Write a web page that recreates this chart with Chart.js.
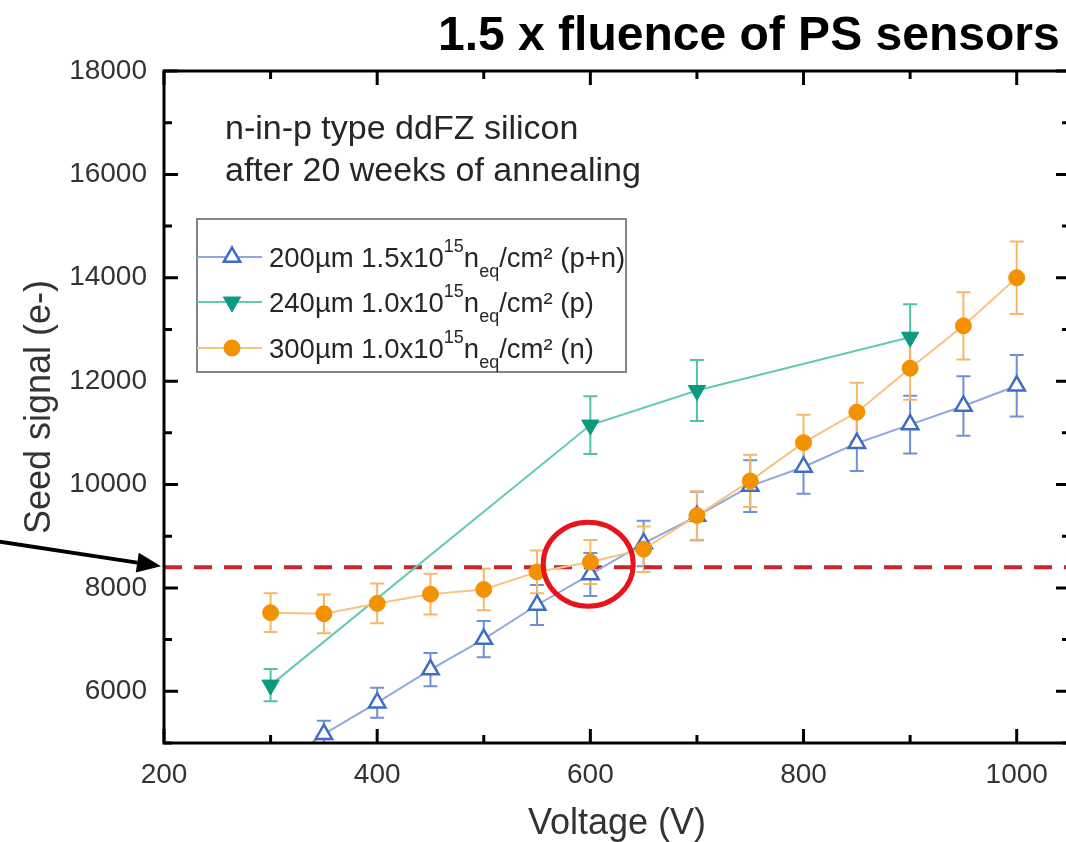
<!DOCTYPE html>
<html>
<head>
<meta charset="utf-8">
<script src="https://cdn.jsdelivr.net/npm/chart.js@4/dist/chart.umd.min.js"></script>
<style>
html,body{margin:0;padding:0;background:#fff;overflow:hidden;}
canvas{display:block;}
</style>
</head>
<body>
<canvas id="c" width="1082" height="842" style="width:1082px;height:842px;"></canvas>
<script>
const FONT = '"Liberation Sans", Arial, Helvetica, sans-serif';

// ---- texts ----
const titleText = '1.5 x fluence of PS sensors';
const noteLines = ['n-in-p type ddFZ silicon', 'after 20 weeks of annealing'];
const xTitle = 'Voltage (V)';
const yTitle = 'Seed signal (e-)';

// ---- ticks ----
const xTickValues = [200, 400, 600, 800, 1000];
const xMinorTicks = [300, 500, 700, 900];
const yTickValues = [6000, 8000, 10000, 12000, 14000, 16000, 18000];
const yMinorTicks = [5000, 7000, 9000, 11000, 13000, 15000, 17000];

// ---- series: 200um 1.5e15 (p+n) ----
const label200 = [['200µm 1.5x10', 'n'], ['15', 'sup'], ['n', 'n'], ['eq', 'sub'], ['/cm² (p+n)', 'n']];
const volts200 = [300, 350, 400, 450, 500, 550, 600, 650, 700, 750, 800, 850, 900, 950, 1000];
const signal200 = [4450, 5170, 5780, 6420, 7010, 7670, 8260, 8860, 9390, 9970, 10340, 10800, 11160, 11520, 11910];
const err200 = [220, 260, 290, 320, 350, 385, 415, 440, 470, 500, 520, 540, 560, 575, 595];

// ---- series: 240um 1.0e15 (p) ----
const label240 = [['240µm 1.0x10', 'n'], ['15', 'sup'], ['n', 'n'], ['eq', 'sub'], ['/cm² (p)', 'n']];
const volts240 = [300, 600, 700, 900];
const signal240 = [6120, 11150, 11820, 12850];
const err240 = [310, 560, 590, 640];

// ---- series: 300um 1.0e15 (n) ----
const label300 = [['300µm 1.0x10', 'n'], ['15', 'sup'], ['n', 'n'], ['eq', 'sub'], ['/cm² (n)', 'n']];
const volts300 = [300, 350, 400, 450, 500, 550, 600, 650, 700, 750, 800, 850, 900, 950, 1000];
const signal300 = [7520, 7500, 7700, 7880, 7970, 8310, 8500, 8750, 9400, 10070, 10810, 11400, 12250, 13070, 14000];
const err300 = [375, 375, 385, 395, 400, 415, 425, 440, 470, 505, 540, 570, 610, 650, 700];

// ---- annotations ----
const thresholdSignal = 8400;
const circleCenterV = 598;
const circleCenterS = 8460;

const series = [
  { label: label200, v: volts200, s: signal200, e: err200, line: '#8fa9df', mark: '#3f6dc4', err: '#6f90d8',
    style: 'triangle', rot: 0, r: 9.5, fill: '#ffffff', bw: 2.5, order: 1 },
  { label: label240, v: volts240, s: signal240, e: err240, line: '#5fcbb0', mark: '#0c9a7e', err: '#4fc4a4',
    style: 'triangle', rot: 180, r: 10, fill: '#0c9a7e', bw: 1, order: 2 },
  { label: label300, v: volts300, s: signal300, e: err300, line: '#f8c27f', mark: '#f39200', err: '#f5b869',
    style: 'circle', rot: 0, r: 8, fill: '#f39200', bw: 1, order: 0 }
];

const datasets = series.map(sr => ({
  data: sr.v.map((v, i) => ({ x: v, y: sr.s[i] })),
  showLine: true,
  borderColor: sr.line,
  borderWidth: 2,
  pointStyle: sr.style,
  rotation: sr.rot,
  pointRadius: sr.r,
  pointBackgroundColor: sr.fill,
  pointBorderColor: sr.mark,
  pointBorderWidth: sr.bw,
  order: sr.order
}));

function drawRich(ctx, parts, x, y) {
  for (const [t, k] of parts) {
    const size = k === 'n' ? 27.5 : 18;
    ctx.font = size + 'px ' + FONT;
    const dy = k === 'sup' ? -15 : (k === 'sub' ? 10 : 0);
    ctx.fillText(t, x, y + dy);
    x += ctx.measureText(t).width;
  }
}

const decor = {
  id: 'decor',
  beforeDatasetsDraw(chart) {
    const { ctx, chartArea: a, scales: { x, y } } = chart;
    ctx.save();
    ctx.beginPath();
    ctx.rect(a.left, a.top, a.right - a.left, a.bottom - a.top);
    ctx.clip();
    series.forEach(sr => {
      ctx.strokeStyle = sr.err;
      ctx.lineWidth = 2;
      sr.v.forEach((v, i) => {
        const px = x.getPixelForValue(v);
        const lo = y.getPixelForValue(sr.s[i] - sr.e[i]);
        const hi = y.getPixelForValue(sr.s[i] + sr.e[i]);
        ctx.beginPath();
        ctx.moveTo(px, lo); ctx.lineTo(px, hi);
        ctx.moveTo(px - 7, lo); ctx.lineTo(px + 7, lo);
        ctx.moveTo(px - 7, hi); ctx.lineTo(px + 7, hi);
        ctx.stroke();
      });
    });
    const ty = y.getPixelForValue(thresholdSignal);
    ctx.setLineDash([18, 12]);
    ctx.strokeStyle = '#c8262d';
    ctx.lineWidth = 4;
    ctx.beginPath();
    ctx.moveTo(a.left, ty);
    ctx.lineTo(a.right, ty);
    ctx.stroke();
    ctx.restore();
  },
  afterDraw(chart) {
    const { ctx, chartArea: a, scales: { x, y } } = chart;
    ctx.save();
    ctx.strokeStyle = '#000';
    ctx.lineWidth = 3;
    ctx.strokeRect(a.left, a.top, a.right - a.left, a.bottom - a.top);
    const tick = (vals, len, horiz) => {
      vals.forEach(v => {
        ctx.beginPath();
        if (horiz) {
          const px = x.getPixelForValue(v);
          ctx.moveTo(px, a.bottom); ctx.lineTo(px, a.bottom - len);
          ctx.moveTo(px, a.top); ctx.lineTo(px, a.top + len);
        } else {
          const py = y.getPixelForValue(v);
          ctx.moveTo(a.left, py); ctx.lineTo(a.left + len, py);
          ctx.moveTo(a.right, py); ctx.lineTo(a.right - len, py);
        }
        ctx.stroke();
      });
    };
    tick(xTickValues, 14, true);
    tick(xMinorTicks, 8, true);
    tick(yTickValues, 14, false);
    tick(yMinorTicks, 8, false);

    ctx.fillStyle = '#000';
    ctx.font = 'bold 48px ' + FONT;
    ctx.textAlign = 'left';
    ctx.textBaseline = 'alphabetic';
    ctx.fillText(titleText, 438, 50);

    ctx.fillStyle = '#262626';
    ctx.font = '34px ' + FONT;
    ctx.fillText(noteLines[0], a.left + 61, a.top + 68);
    ctx.fillText(noteLines[1], a.left + 61, a.top + 110);

    const lx = a.left + 33, ly = a.top + 148, lw = 429, lh = 153;
    ctx.fillStyle = '#fff';
    ctx.fillRect(lx, ly, lw, lh);
    ctx.strokeStyle = '#858585';
    ctx.lineWidth = 2;
    ctx.strokeRect(lx, ly, lw, lh);
    const rowY = [ly + 38, ly + 83, ly + 129];
    series.forEach((sr, i) => {
      const ry = rowY[i];
      ctx.strokeStyle = sr.line;
      ctx.lineWidth = 2;
      ctx.beginPath();
      ctx.moveTo(lx, ry); ctx.lineTo(lx + 65, ry);
      ctx.stroke();
      ctx.fillStyle = sr.fill;
      ctx.strokeStyle = sr.mark;
      ctx.lineWidth = sr.bw;
      Chart.helpers.drawPoint(ctx, { pointStyle: sr.style, rotation: sr.rot, radius: sr.r, borderWidth: sr.bw }, lx + 35, ry);
      ctx.fillStyle = '#262626';
      drawRich(ctx, sr.label, lx + 72, ry + 10);
    });

    const cx = x.getPixelForValue(circleCenterV), cy = y.getPixelForValue(circleCenterS);
    ctx.strokeStyle = '#e8141c';
    ctx.lineWidth = 5;
    ctx.beginPath();
    ctx.ellipse(cx, cy, 45, 42, 0, 0, Math.PI * 2);
    ctx.stroke();

    const tipX = a.left - 3, tipY = y.getPixelForValue(thresholdSignal) - 1;
    const tailX = -10, tailY = tipY - 26;
    const ang = Math.atan2(tipY - tailY, tipX - tailX);
    const hl = 24, hw = 10;
    const bx = tipX - hl * Math.cos(ang), by = tipY - hl * Math.sin(ang);
    ctx.strokeStyle = '#000';
    ctx.fillStyle = '#000';
    ctx.lineWidth = 4;
    ctx.beginPath();
    ctx.moveTo(tailX, tailY); ctx.lineTo(bx, by);
    ctx.stroke();
    ctx.beginPath();
    ctx.moveTo(tipX, tipY);
    ctx.lineTo(bx + hw * Math.sin(ang), by - hw * Math.cos(ang));
    ctx.lineTo(bx - hw * Math.sin(ang), by + hw * Math.cos(ang));
    ctx.closePath();
    ctx.fill();
    ctx.restore();
  }
};

new Chart(document.getElementById('c'), {
  type: 'scatter',
  data: { datasets },
  options: {
    responsive: false,
    maintainAspectRatio: false,
    devicePixelRatio: 1,
    animation: false,
    layout: { padding: { top: 71, right: 0, left: 0, bottom: 0 } },
    plugins: { legend: { display: false }, tooltip: { enabled: false } },
    scales: {
      x: {
        type: 'linear', min: 200, max: 1050,
        afterBuildTicks: s => { s.ticks = xTickValues.map(v => ({ value: v })); },
        afterFit: s => { s.height = 99; s.paddingLeft = 0; s.paddingRight = 0; },
        grid: { display: false, drawTicks: false },
        border: { display: false },
        ticks: { font: { family: FONT, size: 28 }, color: '#333', padding: 15, maxRotation: 0, autoSkip: false,
                 callback: v => String(v) },
        title: { display: true, text: xTitle, color: '#333', font: { family: FONT, size: 36, lineHeight: 1 }, padding: { top: 0, bottom: 0 } }
      },
      y: {
        type: 'linear', min: 5000, max: 18000,
        afterBuildTicks: s => { s.ticks = yTickValues.map(v => ({ value: v })); },
        afterFit: s => { s.width = 164; s.paddingTop = 0; s.paddingBottom = 0; },
        grid: { display: false, drawTicks: false },
        border: { display: false },
        ticks: { font: { family: FONT, size: 28 }, color: '#333', padding: 17, callback: v => String(v) },
        title: { display: true, text: yTitle, color: '#333', font: { family: FONT, size: 36, lineHeight: 1 }, padding: { top: 22, bottom: 0 } }
      }
    }
  },
  plugins: [decor]
});
</script>
</body>
</html>
